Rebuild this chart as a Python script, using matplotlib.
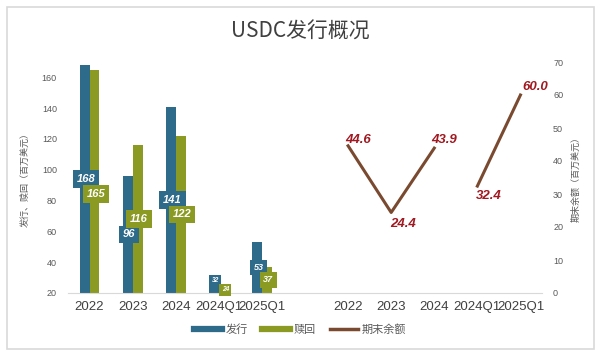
import numpy as np
import matplotlib.pyplot as plt
from matplotlib.lines import Line2D
from matplotlib.patches import Rectangle

plt.rcParams['font.family'] = ['Noto Sans CJK SC', 'DejaVu Sans']
NUM_FONT = ["Liberation Sans", "DejaVu Sans"]

# ── data ──────────────────────────────────
periods = ["2022", "2023", "2024", "2024Q1", "2025Q1"]
issued = [168, 96, 141, 32, 53]
redeemed = [165, 116, 122, 24, 37]
balance = [44.6, 24.4, 43.9, 32.4, 60.0]

BLUE = "#2E6A8A"
OLIVE = "#8A9A22"
BROWN = "#7A4A30"
LABEL_RED = "#A01820"
GREY = "#595959"

n = len(periods)
bar_x = np.arange(n)
line_x = np.arange(n) + n + 1
tick_pos = list(bar_x) + list(line_x)
tick_lab = periods + periods

fig = plt.figure(figsize=(6, 3.56), dpi=100)
fig.patches.append(Rectangle((7 / 600, 1 - 349 / 356), 587 / 600, 342 / 356,
                             transform=fig.transFigure, fill=False,
                             edgecolor="#D9D9D9", linewidth=1.2))

ax = fig.add_axes([68 / 600, 1 - 293 / 356, 474 / 600, 231 / 356])
ax2 = ax.twinx()

w = 0.23
ax.bar(bar_x - w / 2, np.array(issued) - 20, w, bottom=20, color=BLUE)
ax.bar(bar_x + w / 2, np.array(redeemed) - 20, w, bottom=20, color=OLIVE)


def fsize(v):
    if v >= 60:
        return 8
    if v >= 35:
        return 6.5
    return 4.8


for i in range(n):
    yi = (20 + issued[i]) / 2
    yr = (20 + redeemed[i]) / 2
    # big labels that would collide: push the redemption one down
    if abs(yi - yr) < 6 and min(issued[i], redeemed[i]) >= 60:
        yr -= 8
    elif abs(yi - yr) < 6:
        yi += 2
    for x, y, v, c in [(bar_x[i] - w / 2, yi, issued[i], BLUE),
                       (bar_x[i] + w / 2, yr, redeemed[i], OLIVE)]:
        ax.text(x + w * 0.15, y, str(v), ha="center", va="center",
                color="white", fontsize=fsize(v), fontweight="bold",
                fontstyle="italic", family=NUM_FONT,
                bbox=dict(boxstyle="square,pad=0.35", fc=c, ec="none"))

ax2.plot(line_x[:3], balance[:3], color=BROWN, lw=2.2)
ax2.plot(line_x[3:], balance[3:], color=BROWN, lw=2.2)
offsets = [(7, 4), (8.5, -8), (7, 6), (8.5, -7), (11, 6)]
for x, v, (dx, dy) in zip(line_x, balance, offsets):
    ax2.annotate(f"{v:.1f}", (x, v), xytext=(dx, dy), textcoords="offset points",
                 ha="center", va="center", color=LABEL_RED, fontsize=9.5,
                 fontweight="bold", fontstyle="italic", family=NUM_FONT)

ax.set_xlim(-0.5, len(tick_pos) + 0.5)
ax.set_ylim(20, 170)
ax2.set_ylim(0, 70)
ax.set_yticks(range(20, 161, 20))
ax2.set_yticks(range(0, 71, 10))
ax.set_xticks(tick_pos)
ax.set_xticklabels(tick_lab)

for a in (ax, ax2):
    for s in a.spines.values():
        s.set_visible(False)
    a.tick_params(length=0, labelsize=6.5, colors=GREY)
    for t in a.get_yticklabels():
        t.set_family(NUM_FONT)
for t in ax.get_xticklabels():
    t.set_family(NUM_FONT)
ax.tick_params(axis="x", labelsize=9.5, colors="#404040", pad=6)
ax.spines["bottom"].set_visible(True)
ax.spines["bottom"].set_color("#D9D9D9")
ax.tick_params(axis="y", pad=8)
ax2.tick_params(axis="y", pad=8)

ax.set_ylabel("发行、赎回（百万美元）", fontsize=6.5, color=GREY, labelpad=9)
ax2.set_ylabel("期末余额（百万美元）", fontsize=6.5, color=GREY, rotation=90, labelpad=6)

fig.text(0.5, 1 - 32 / 356, "USDC发行概况", ha="center", va="center",
         fontsize=15, color="#404040")

handles = [Line2D([], [], color=BLUE, lw=4.5),
           Line2D([], [], color=OLIVE, lw=4.5),
           Line2D([], [], color=BROWN, lw=2.5)]
fig.legend(handles, ["发行", "赎回", "期末余额"], loc="center",
           bbox_to_anchor=(0.5, 1 - 330 / 356), ncol=3, frameon=False,
           fontsize=8, labelcolor=GREY, handlelength=2.5, columnspacing=1.3,
           handletextpad=0.3)

fig.savefig("out.png", dpi=100)
